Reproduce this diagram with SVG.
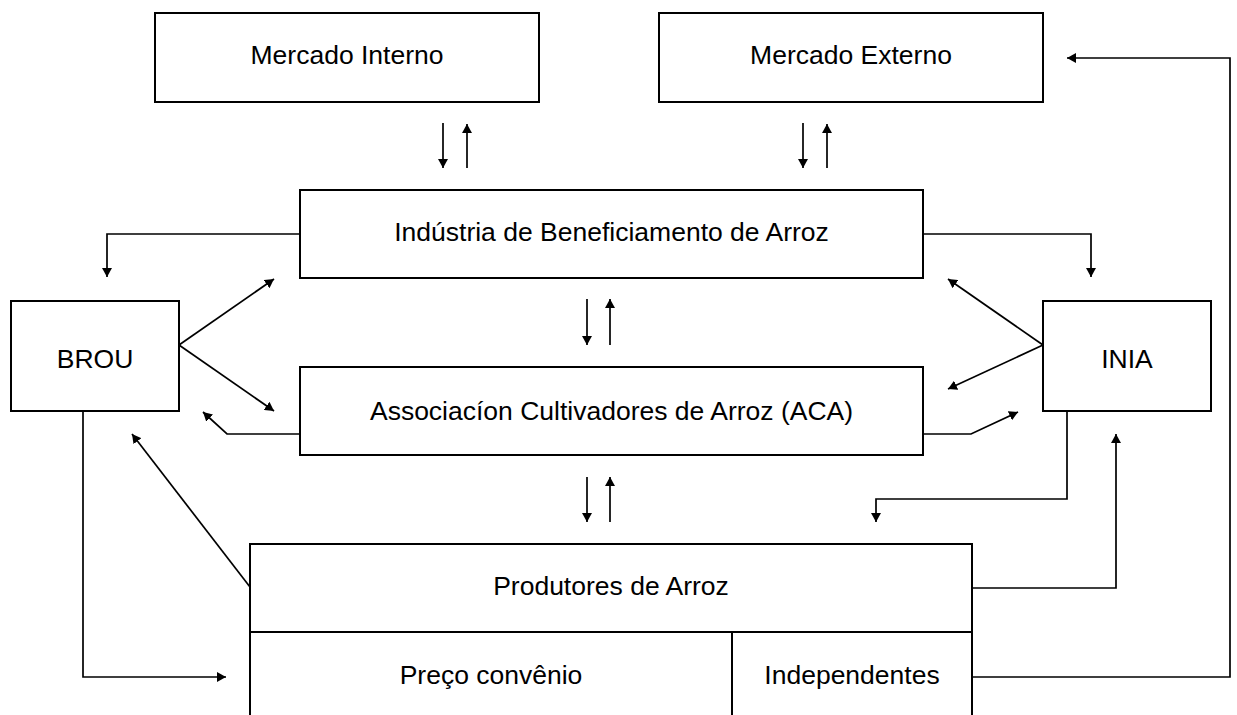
<svg xmlns="http://www.w3.org/2000/svg" width="1237" height="715" viewBox="0 0 1237 715">
<style>
  .box { fill: #ffffff; stroke: #000000; stroke-width: 2; }
  .lbl { font-family: "Liberation Sans", Arial, sans-serif; font-size: 26.5px; fill: #000000; text-anchor: middle; }
  .con { fill: none; stroke: #000000; stroke-width: 1.7; marker-end: url(#ah); }
</style>
<defs>
  <marker id="ah" viewBox="0 0 9 10" refX="9" refY="5" markerWidth="9" markerHeight="10" markerUnits="userSpaceOnUse" orient="auto">
    <path d="M0,0 L9,5 L0,10 z" fill="#000000"/>
  </marker>
</defs>
<rect x="0" y="0" width="1237" height="715" fill="#ffffff"/>

<g id="mercado-interno">
  <rect class="box" x="155" y="13" width="384" height="89"/>
  <text class="lbl" x="347" y="64">Mercado Interno</text>
</g>
<g id="mercado-externo">
  <rect class="box" x="659" y="13" width="384" height="89"/>
  <text class="lbl" x="851" y="64">Mercado Externo</text>
</g>
<g id="industria">
  <rect class="box" x="300" y="190" width="623" height="88"/>
  <text class="lbl" x="611.5" y="241">Indústria de Beneficiamento de Arroz</text>
</g>
<g id="brou">
  <rect class="box" x="11" y="301" width="168" height="110"/>
  <text class="lbl" x="95" y="368">BROU</text>
</g>
<g id="inia">
  <rect class="box" x="1043" y="301" width="168" height="110"/>
  <text class="lbl" x="1127" y="368">INIA</text>
</g>
<g id="aca">
  <rect class="box" x="300" y="367" width="623" height="88"/>
  <text class="lbl" x="611.5" y="420">Associacíon Cultivadores de Arroz (ACA)</text>
</g>
<g id="produtores">
  <rect class="box" x="250" y="544" width="722" height="88"/>
  <text class="lbl" x="611" y="595">Produtores de Arroz</text>
</g>
<g id="preco-convenio">
  <rect class="box" x="250" y="632" width="482" height="100"/>
  <text class="lbl" x="491" y="684">Preço convênio</text>
</g>
<g id="independentes">
  <rect class="box" x="732" y="632" width="240" height="100"/>
  <text class="lbl" x="852" y="684">Independentes</text>
</g>

<g id="connectors">
  <path class="con" d="M443,123 V168"/>
  <path class="con" d="M467,168 V124"/>
  <path class="con" d="M803,123 V168"/>
  <path class="con" d="M827,168 V124"/>
  <path class="con" d="M300,234 H107 V277"/>
  <path class="con" d="M923,234 H1091 V277"/>
  <path class="con" d="M179,345 L274,279"/>
  <path class="con" d="M179,345 L274,411"/>
  <path class="con" d="M1043,345 L948,279"/>
  <path class="con" d="M1043,345 L948,389"/>
  <path class="con" d="M587,299 V345"/>
  <path class="con" d="M610,345 V299"/>
  <path class="con" d="M300,434 H227 L203,412"/>
  <path class="con" d="M923,434 H971 L1018,412"/>
  <path class="con" d="M587,477 V522"/>
  <path class="con" d="M610,522 V477"/>
  <path class="con" d="M83,411 V677 H226"/>
  <path class="con" d="M250,587 L132,434"/>
  <path class="con" d="M1067,411 V499 H876 V522"/>
  <path class="con" d="M972,588 H1116 V434"/>
  <path class="con" d="M972,677 H1230 V58 H1067"/>
</g>
</svg>
